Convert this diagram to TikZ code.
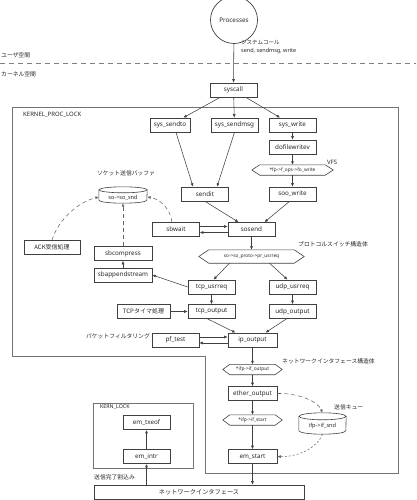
\documentclass[tikz,border=0pt]{standalone}
\usepackage{fontspec}
\setmainfont{Noto Sans}
\newfontfamily\jp{Noto Sans CJK JP}
\usetikzlibrary{arrows.meta}
\newcommand\hexdraw[2]{\draw[hexline] (#1.west) -- ([xshift=#2]#1.north west) -- ([xshift=-#2]#1.north east) -- (#1.east) -- ([xshift=-#2]#1.south east) -- ([xshift=#2]#1.south west) -- cycle;}
\newcommand\cyldraw[3]{%
  \draw[hexline] ([yshift=-#3]#1.north west) -- ([yshift=#3]#1.south west) arc[start angle=180,end angle=360,x radius=#2,y radius=#3] -- ([yshift=-#3]#1.north east);
  \draw[hexline] ([yshift=-#3]#1.north) ellipse[x radius=#2,y radius=#3];}
\begin{document}
\begin{tikzpicture}[x=1pt,y=1pt,
  box/.style={draw=black!75, line width=0.7pt, minimum width=47pt, minimum height=14pt, inner sep=0pt, text=black!85, font=\fontsize{6.3}{7}\selectfont},
  hexa/.style={minimum height=10pt, inner sep=0pt, text=black!85, font=\fontsize{4.8}{6}\selectfont},
  cyl/.style={inner sep=0pt},
  cyltext/.style={inner sep=0pt, text=black!85, font=\fontsize{5.6}{6}\selectfont},
  hexline/.style={draw=black!75, line width=0.6pt},
  lbl/.style={inner sep=0pt, text=black!85, font=\jp\fontsize{5.8}{7}\selectfont},
  llbl/.style={inner sep=0pt, text=black!85, font=\fontsize{6}{7}\selectfont},
  frame/.style={draw=black!55, line width=0.9pt},
  arr/.style={-{Latex[length=3.5pt,width=3pt]}, line width=0.55pt, draw=black!75},
  tarr/.style={arr, line width=0.9pt},
  darr/.style={arr, draw=black!60, dash pattern=on 4pt off 3pt},
  dotarr/.style={arr, draw=black!60, dash pattern=on 2pt off 2pt}
]
\useasboundingbox (0,0) rectangle (416,-500);

% user / kernel separation
\node[lbl, anchor=west] (user) at (1,-55) {ユーザ空間};
\coordinate (sepL) at (0,-63);
\coordinate (sepR) at (416,-63);
\draw[draw=black!50, line width=0.7pt, dash pattern=on 5pt off 4pt] (sepL) -- (sepR);
\node[lbl, anchor=west] (kernel) at (1,-74) {カーネル空間};

% processes
\node[circle, draw=black!75, line width=0.7pt, minimum size=47pt, inner sep=0pt, text=black!85, font=\fontsize{6.3}{7}\selectfont] (proc) at (234,-20) {Processes};
\node[inner sep=0pt, anchor=north west, align=left, text=black!85, font=\fontsize{5.5}{8}\selectfont] (sclbl) at (241,-40) {{\jp システムコール}\\send, sendmsg, write};

\node[box] (syscall) at (233.5,-90) {syscall};

% kernel frames
\draw[frame] (12,-107) -- (398,-107) -- (398,-473) -- (205,-473) -- (205,-356) -- (12,-356) -- cycle;
\node[llbl, anchor=west] (kpl) at (23,-115) {KERNEL\_PROC\_LOCK};

\node[box, minimum width=40pt] (sendto) at (170,-125) {sys\_sendto};
\node[box] (sendmsg) at (234.5,-125) {sys\_sendmsg};
\node[box] (write) at (292.5,-125) {sys\_write};
\node[box] (dofw) at (292.5,-147) {dofilewritev};
\node[hexa, minimum width=81pt] (vfs) at (292.5,-170) {*fp->f\_ops->fo\_write};
\hexdraw{vfs}{8pt}
\node[llbl, anchor=west] (vfsl) at (327,-162) {VFS};
\node[box] (soo) at (292.5,-194) {soo\_write};
\node[box] (sendit) at (205,-194) {sendit};

\node[lbl] (sbuf) at (126,-173) {ソケット送信バッファ};
\node[cyl, minimum width=48pt, minimum height=16pt] (snd) at (123,-195) {};
\cyldraw{snd}{24pt}{3pt}
\node[cyltext] (sndt) at ([yshift=-2.5pt]snd.center) {so->so\_snd};

\node[box] (sbwait) at (176,-229.5) {sbwait};
\node[box] (sosend) at (251.5,-229.5) {sosend};
\node[box, minimum width=56pt, font=\jp\fontsize{6}{7}\selectfont] (ack) at (52,-247.5) {ACK受信処理};
\node[box, minimum width=58pt] (sbcomp) at (123,-253.5) {sbcompress};
\node[box, minimum width=58pt] (sbapp) at (123,-275) {sbappendstream};

\node[hexa, minimum width=105pt, minimum height=13pt] (usrreq) at (251.5,-256.5) {so->so\_proto->pr\_usrreq};
\hexdraw{usrreq}{10pt}
\node[lbl, anchor=west] (psw) at (298,-244) {プロトコルスイッチ構造体};

\node[box] (tcpu) at (211.5,-287) {tcp\_usrreq};
\node[box] (udpu) at (292.5,-287) {udp\_usrreq};
\node[box, minimum width=53pt, font=\jp\fontsize{6}{7}\selectfont] (timer) at (143.5,-311.5) {TCPタイマ処理};
\node[box] (tcpo) at (211.5,-311.5) {tcp\_output};
\node[box] (udpo) at (292.5,-311.5) {udp\_output};

\node[lbl, anchor=east] (pfl) at (150,-336) {パケットフィルタリング};
\node[box] (pf) at (175.5,-340) {pf\_test};
\node[box, minimum width=49pt] (ipo) at (252.5,-340) {ip\_output};

\node[hexa, minimum width=59pt, minimum height=10pt] (ifout) at (252.5,-369.5) {*ifp->if\_output};
\hexdraw{ifout}{7pt}
\node[lbl, anchor=west] (nifl) at (282,-361) {ネットワークインタフェース構造体};
\node[box, minimum width=49pt] (ether) at (252.5,-393.5) {ether\_output};
\node[hexa, minimum width=59pt, minimum height=10pt] (ifstart) at (252.5,-420) {*ifp->if\_start};
\hexdraw{ifstart}{7pt}
\node[box, minimum width=49pt] (emstart) at (252.5,-456.5) {em\_start};

\node[lbl, anchor=west] (sq) at (334,-407) {送信キュー};
\node[cyl, minimum width=47pt, minimum height=21pt] (ifsnd) at (322.5,-423.5) {};
\cyldraw{ifsnd}{23.5pt}{3.5pt}
\node[cyltext] (ifsndt) at ([yshift=-2.5pt]ifsnd.center) {ifp->if\_snd};

% KERN_LOCK
\node[frame, draw, minimum width=100pt, minimum height=65pt, inner sep=0pt] (kern) at (143,-435.5) {};
\node[inner sep=0pt, anchor=west, text=black!85, font=\fontsize{5.3}{6}\selectfont] (kernl) at (100,-407) {KERN\_LOCK};
\node[box] (emtx) at (146.5,-422.5) {em\_txeof};
\node[box] (emintr) at (146.5,-456.5) {em\_intr};
\node[lbl, anchor=west] (txdone) at (94,-477) {送信完了割込み};

\node[box, minimum width=210pt, font=\jp\fontsize{6.2}{7}\selectfont] (nic) at (199,-492) {ネットワークインタフェース};

% connectors
\draw[arr] (proc) -- (syscall);
\draw[arr] (syscall) -- (sendto);
\draw[arr] (syscall) -- (sendmsg);
\draw[arr] (syscall) -- (write);
\draw[arr] ([xshift=6pt]sendto.south) -- ([xshift=-12pt]sendit.north);
\draw[arr] (sendmsg.south) -- ([xshift=12pt]sendit.north);
\draw[arr] (write) -- (dofw);
\draw[arr] (dofw) -- (vfs);
\draw[arr] (vfs) -- (soo);
\draw[arr] (sendit.south) -- ([xshift=-13pt]sosend.north);
\draw[arr] ([xshift=-3pt]soo.south) -- ([xshift=13pt]sosend.north);
\draw[arr] ([yshift=3pt]sbwait.east) -- ([yshift=3pt]sosend.west);
\draw[arr] ([yshift=-3pt]sosend.west) -- ([yshift=-3pt]sbwait.east);
\draw[arr] (sosend) -- (usrreq);
\draw[arr] ([xshift=-22pt]usrreq.south) -- ([xshift=2pt]tcpu.north);
\draw[arr] ([xshift=18pt]usrreq.south) -- ([xshift=-5pt]udpu.north);
\draw[arr] (tcpu.west) -- (sbapp.east);
\draw[arr] (sbapp) -- (sbcomp);
\draw[darr] (sbcomp) -- (snd);
\draw[darr] (ack.north) .. controls (58,-220) and (78,-202) .. ([yshift=-2pt]snd.west);
\draw[darr] ([xshift=-4pt]sbwait.north) .. controls (170,-208) and (160,-199) .. ([yshift=-2pt]snd.east);
\draw[arr] (tcpu) -- (tcpo);
\draw[arr] (udpu) -- (udpo);
\draw[arr] (timer) -- (tcpo);
\draw[arr] ([xshift=-4pt]tcpo.south) -- ([xshift=-17pt]ipo.north);
\draw[arr] ([xshift=-6pt]udpo.south) -- ([xshift=13pt]ipo.north);
\draw[arr] ([yshift=3pt]pf.east) -- ([yshift=3pt]ipo.west);
\draw[arr] ([yshift=-3pt]ipo.west) -- ([yshift=-3pt]pf.east);
\draw[arr] (ipo) -- (ifout);
\draw[arr] (ifout) -- (ether);
\draw[arr] (ether) -- (ifstart);
\draw[arr] (ifstart) -- (emstart);
\draw[arr] (emstart) -- (emstart.south |- nic.north);
\draw[darr] (ether.east) .. controls (300,-393) and (318,-402) .. (ifsnd.north);
\draw[dotarr] (ifsnd.south) .. controls (316,-450) and (295,-457) .. (emstart.east);
\draw[tarr] (emintr.south |- nic.north) -- (emintr);
\draw[tarr] (emintr) -- (emtx);
\end{tikzpicture}
\end{document}
